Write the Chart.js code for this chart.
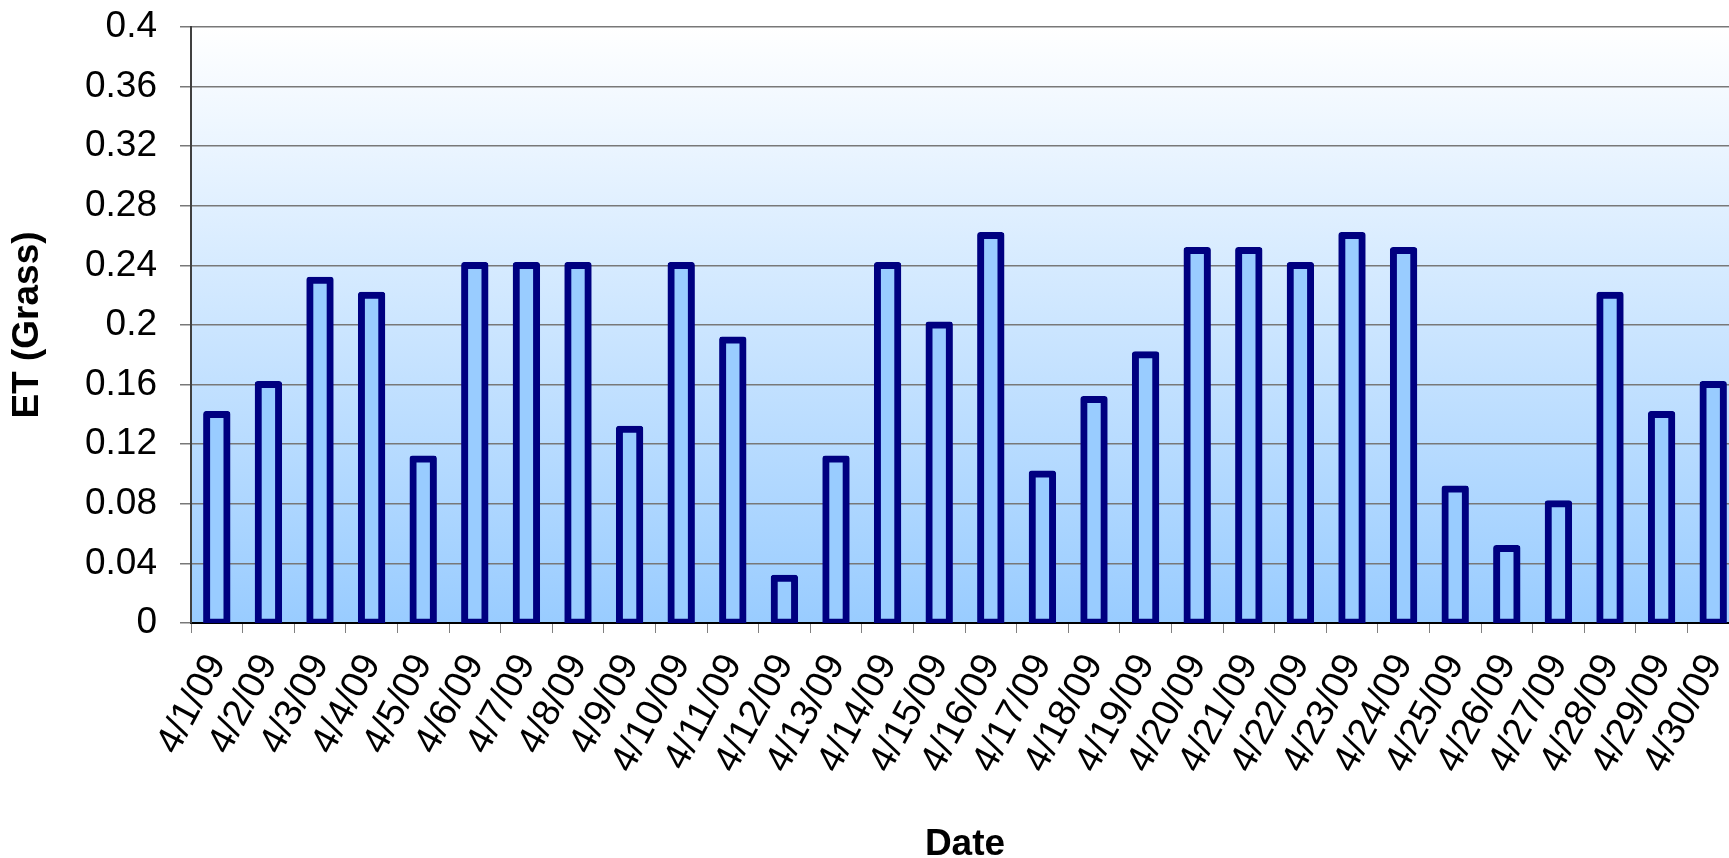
<!DOCTYPE html>
<html>
<head>
<meta charset="utf-8">
<title>ET (Grass) - April 2009</title>
<script src="https://cdn.jsdelivr.net/npm/chart.js@4.4.1/dist/chart.umd.min.js"></script>
<style>
    html, body {
        margin: 0;
        padding: 0;
        background: #ffffff;
        overflow: hidden;
    }
    .chart-box {
        position: relative;
        width: 1740px;
        height: 858px;
    }
</style>
</head>
<body>
<div class="chart-box">
    <canvas id="etChart"></canvas>
</div>
<script>
// Data
const dates = [
    '4/1/09', '4/2/09', '4/3/09', '4/4/09', '4/5/09', '4/6/09', '4/7/09', '4/8/09',
    '4/9/09', '4/10/09', '4/11/09', '4/12/09', '4/13/09', '4/14/09', '4/15/09',
    '4/16/09', '4/17/09', '4/18/09', '4/19/09', '4/20/09', '4/21/09', '4/22/09',
    '4/23/09', '4/24/09', '4/25/09', '4/26/09', '4/27/09', '4/28/09', '4/29/09', '4/30/09'
];
const etGrass = [
    0.14, 0.16, 0.23, 0.22, 0.11, 0.24, 0.24, 0.24, 0.13, 0.24,
    0.19, 0.03, 0.11, 0.24, 0.20, 0.26, 0.10, 0.15, 0.18, 0.25,
    0.25, 0.24, 0.26, 0.25, 0.09, 0.05, 0.08, 0.22, 0.14, 0.16
];
const yMin = 0;
const yMax = 0.4;
const yStep = 0.04;

const FONT = "'Liberation Sans', Arial, sans-serif";

// Plot area background: white fading to light blue
const plotBackground = {
    id: 'plotBackground',
    beforeDraw(chart) {
        const { ctx, chartArea } = chart;
        if (!chartArea) return;
        const grad = ctx.createLinearGradient(0, chartArea.top, 0, chartArea.bottom);
        grad.addColorStop(0, '#ffffff');
        grad.addColorStop(1, '#99ccff');
        ctx.save();
        ctx.fillStyle = grad;
        ctx.fillRect(chartArea.left, chartArea.top, chartArea.right - chartArea.left, chartArea.bottom - chartArea.top);
        ctx.restore();
    }
};

const ctx = document.getElementById('etChart').getContext('2d');
const etChart = new Chart(ctx, {
    type: 'bar',
    data: {
        labels: dates,
        datasets: [{
            label: 'ET (Grass)',
            data: etGrass,
            backgroundColor: '#99ccff',
            borderColor: '#000080',
            borderWidth: 7,
            borderRadius: 3,
            borderSkipped: false,
            // outline straddles the bar edge, like the original
            inflateAmount: 3.5,
            categoryPercentage: 1,
            barPercentage: 0.395
        }]
    },
    options: {
        responsive: true,
        maintainAspectRatio: false,
        animation: false,
        layout: {
            padding: { top: 27, right: 1, bottom: 0, left: 0 }
        },
        plugins: {
            legend: { display: false },
            tooltip: { enabled: false }
        },
        scales: {
            x: {
                grid: {
                    offset: true,
                    drawOnChartArea: false,
                    drawTicks: true,
                    tickLength: 10,
                    color: '#808080'
                },
                border: {
                    color: '#000000',
                    width: 2
                },
                ticks: {
                    autoSkip: false,
                    minRotation: 62,
                    maxRotation: 62,
                    padding: 14,
                    color: '#000000',
                    font: { family: FONT, size: 38 }
                },
                title: {
                    display: true,
                    text: 'Date',
                    color: '#000000',
                    padding: { top: 0, bottom: -9 },
                    font: { family: FONT, size: 37, weight: 'bold' }
                },
                afterFit(scale) {
                    scale.height = 235;
                    scale.paddingLeft = 0;
                    scale.paddingRight = 0;
                }
            },
            y: {
                min: yMin,
                max: yMax,
                grid: {
                    color: '#787878',
                    lineWidth: 1.5,
                    tickLength: 11
                },
                border: {
                    color: '#404040',
                    width: 2
                },
                ticks: {
                    stepSize: yStep,
                    padding: 23,
                    color: '#000000',
                    font: { family: FONT, size: 37 },
                    callback: (value) => String(Number(value.toFixed(2)))
                },
                title: {
                    display: true,
                    text: 'ET (Grass)',
                    color: '#000000',
                    padding: { top: 6, bottom: 0 },
                    font: { family: FONT, size: 37, weight: 'bold' }
                },
                afterFit(scale) {
                    scale.width = 191;
                    scale.paddingTop = 0;
                    scale.paddingBottom = 0;
                }
            }
        }
    },
    plugins: [plotBackground]
});
</script>
</body>
</html>
